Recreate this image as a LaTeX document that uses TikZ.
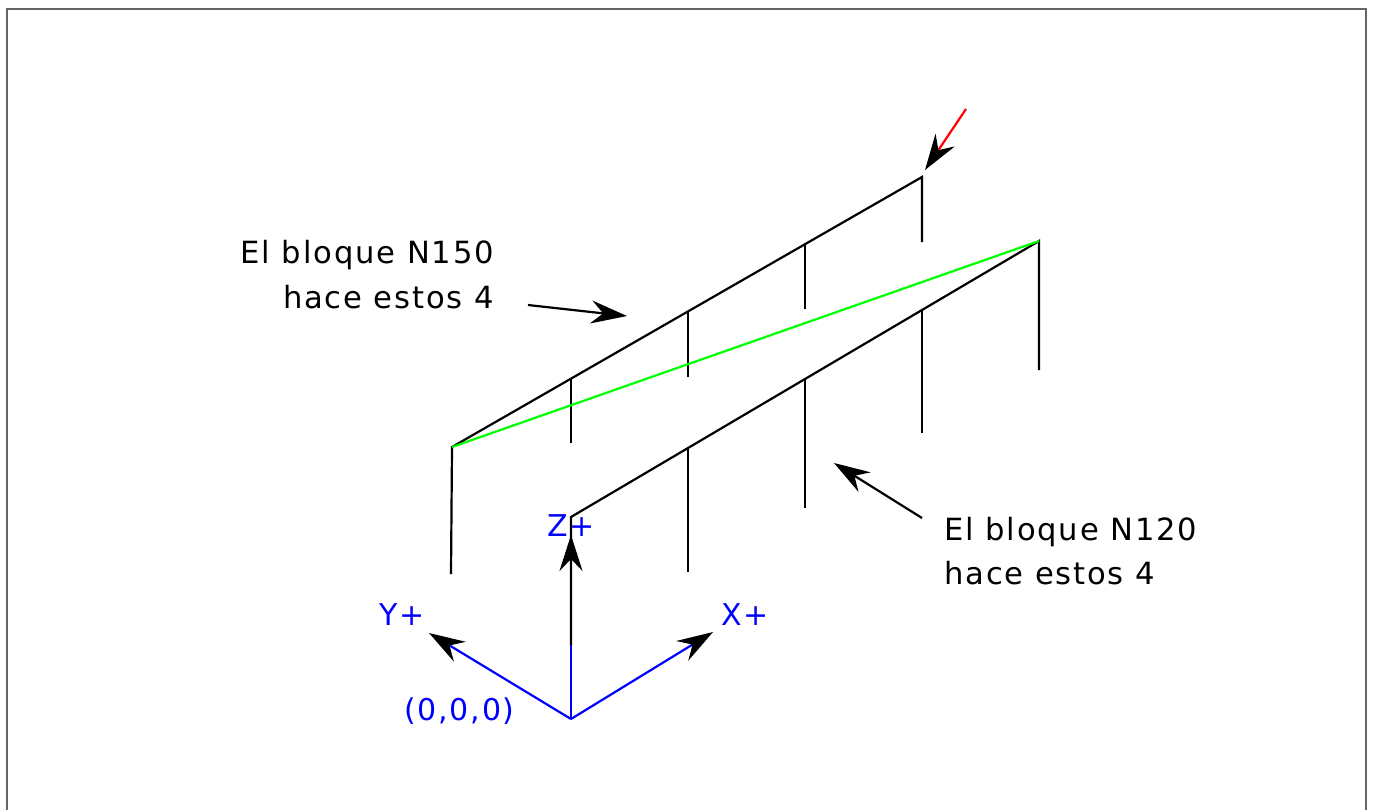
\documentclass[tikz,border=0pt]{standalone}
\usepackage{fontspec}
\setmainfont[LetterSpace=6]{DejaVu Sans}
\usetikzlibrary{arrows.meta}
\tikzset{
  x=1pt,y=-1pt,
  member/.style={line width=2.2pt,black,line cap=butt},
  tiparrow/.style={line width=2.2pt,-{Stealth[black,length=36pt,width=23pt,inset=12pt]}},
  note/.style={inner sep=0pt,font=\fontsize{30.6}{36}\selectfont,text=black},
  axislabel/.style={inner sep=0pt,font=\fontsize{30}{36}\selectfont,text=blue},
}
\begin{document}
\begin{tikzpicture}
\useasboundingbox (0,0) rectangle (1373,809);
\draw[line width=2pt,black!60] (7,820) -- (7,9) -- (1366,9) -- (1366,820);
% labels
\node[note,anchor=base east] (n150a) at (494,263) {El bloque N150};
\node[note,anchor=base east] (n150b) at (494,308) {hace estos 4};
\node[note,anchor=base west] (n120a) at (944,540) {El bloque N120};
\node[note,anchor=base west] (n120b) at (944,584) {hace estos 4};
\node[axislabel,anchor=base west] (ylab) at (379,625) {Y+};
\node[axislabel,anchor=base west] (xlab) at (721,625) {X+};
\node[axislabel,anchor=base west] (zlab) at (547,536) {Z+};
\node[axislabel,anchor=base west] (olab) at (404,720) {(0,0,0)};
% points
\coordinate (A0) at (452,447);
\coordinate (A0b) at (451,574);
\coordinate (A1) at (571,379);
\coordinate (A1b) at (571,443);
\coordinate (A2) at (688,312);
\coordinate (A2b) at (688,377);
\coordinate (A3) at (805,244);
\coordinate (A3b) at (805,309);
\coordinate (A4) at (922,177);
\coordinate (A4b) at (922,242);
\coordinate (B0) at (571,517);
\coordinate (B0b) at (571,645);
\coordinate (B1) at (688,448);
\coordinate (B1b) at (688,572);
\coordinate (B2) at (805,379);
\coordinate (B2b) at (805,508);
\coordinate (B3) at (922,310);
\coordinate (B3b) at (922,433);
\coordinate (B4) at (1039,241);
\coordinate (B4b) at (1039,370);
\coordinate (O) at (571,719);
\coordinate (Yt) at (429,633);
\coordinate (Xt) at (713,632);
\coordinate (Zt) at (571,535);
\coordinate (Rs) at (966,109);
\coordinate (Rt) at (925,170);
\coordinate (Ns) at (528,305);
\coordinate (Nt) at (627,316);
\coordinate (Ms) at (922,518);
\coordinate (Mt) at (834,463);
% structure
\draw[member,line join=miter] (A0b) -- (A0) -- (A4) -- (A4b);
\draw[member] (A1) -- (A1b);
\draw[member] (A2) -- (A2b);
\draw[member] (A3) -- (A3b);
\draw[member,line join=miter] (B0b) -- (B0) -- (B4) -- (B4b);
\draw[member] (B1) -- (B1b);
\draw[member] (B2) -- (B2b);
\draw[member] (B3) -- (B3b);
\draw[line width=2.2pt,green] (A0) -- (B4);
% arrows
\draw[line width=2.2pt,blue] (O) -- (B0b);
\draw[tiparrow,black] (B0b) -- (Zt);
\draw[tiparrow,blue] (O) -- (Yt);
\draw[tiparrow,blue] (O) -- (Xt);
\draw[tiparrow,red] (Rs) -- (Rt);
\draw[tiparrow,black] (Ns) -- (Nt);
\draw[tiparrow,black] (Ms) -- (Mt);
\end{tikzpicture}
\end{document}
